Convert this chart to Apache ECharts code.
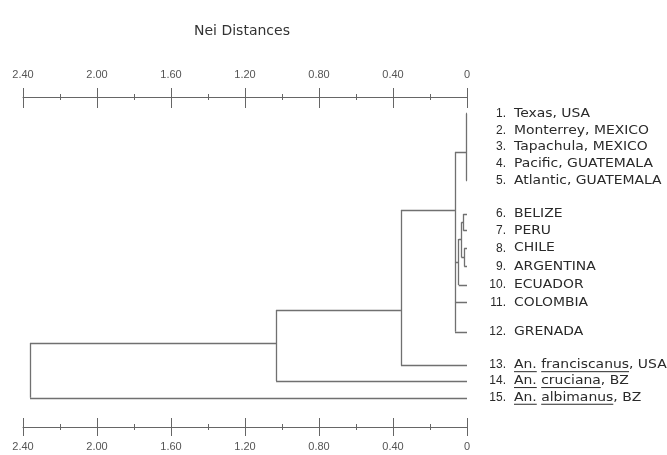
<!DOCTYPE html>
<html><head><meta charset="utf-8">
<script src="https://cdn.jsdelivr.net/npm/echarts@6/dist/echarts.min.js"></script>
<style>html,body{margin:0;padding:0;background:#fff}#c{width:667px;height:455px}</style>
</head><body><div id="c"></div>
<script>
// ---- data ----
const titleText = 'Nei Distances';
const tickValues = [0, 0.4, 0.8, 1.2, 1.6, 2.0, 2.4];
const tickLabels = ['0', '0.40', '0.80', '1.20', '1.60', '2.00', '2.40'];

const leafIds = ['L1','L2','L3','L4','L5','L6','L7','L8','L9','L10','L11','L12','L13','L14','L15'];
const leafNumbers = ['1.','2.','3.','4.','5.','6.','7.','8.','9.','10.','11.','12.','13.','14.','15.'];
const leafNames = ['Texas, USA','Monterrey, MEXICO','Tapachula, MEXICO','Pacific, GUATEMALA','Atlantic, GUATEMALA',
  'BELIZE','PERU','CHILE','ARGENTINA','ECUADOR','COLOMBIA','GRENADA',
  'An. franciscanus, USA','An. cruciana, BZ','An. albimanus, BZ'];
// words shown underlined (species names)
const leafUnderlined = [[],[],[],[],[],[],[],[],[],[],[],[],
  ['An.','franciscanus'], ['An.','cruciana'], ['An.','albimanus']];
// leaf order rows (row units on the hidden vertical axis)
const leafRows = [0, 1, 2, 3, 4, 6, 7, 8.05, 9.15, 10.25, 11.3, 13.05, 15.05, 16, 17];

// internal nodes: Nei distance at which the cluster joins, its children, and the row where it attaches to its parent
const nodeIds = ['T','S1','S2','S3','S4','C','B','A','R'];
const nodeHeights = [0.005, 0.02, 0.015, 0.03, 0.045, 0.065, 0.357, 1.032, 2.362];
const nodeChildren = [
  ['L1','L2','L3','L4','L5'],
  ['L6','L7'],
  ['L8','L9'],
  ['S1','S2'],
  ['S3','L10'],
  ['T','S4','L11','L12'],
  ['C','L13'],
  ['B','L14'],
  ['A','L15']
];
const nodeRows = [2.3, 6.5, 8.6, 7.5, 8.9, 5.77, 11.75, 13.73, 15.5];

// ---- build ----
function info(id) {
  const li = leafIds.indexOf(id);
  if (li >= 0) return { h: 0, row: leafRows[li] };
  const ni = nodeIds.indexOf(id);
  return { h: nodeHeights[ni], row: nodeRows[ni] };
}
const segs = [];
nodeIds.forEach((id, j) => {
  const h = nodeHeights[j];
  const kids = nodeChildren[j].map(info);
  const rows = kids.map(k => k.row);
  segs.push({ coords: [[h, Math.min(...rows)], [h, Math.max(...rows)]] });
  kids.forEach(k => segs.push({ coords: [[k.h, k.row], [h, k.row]] }));
});

const FONT = '"Liberation Sans", Arial, sans-serif';
const NAME_FONT = '12px "DejaVu Sans", sans-serif';
const NUM_FONT = '12px "Liberation Sans", Arial, sans-serif';
const NAME_SX = 1.16;
const TEXT_COLOR = '#2a2a2a';
const mctx = document.createElement('canvas').getContext('2d');
function measure(s) { mctx.font = NAME_FONT; return mctx.measureText(s).width; }

const axisColor = '#666';
function baseX(pos, show, inside, len) {
  return {
    type: 'value', position: pos, min: 0, max: 2.4, interval: 0.4, inverse: true,
    axisLine: { show: show, onZero: false, lineStyle: { color: axisColor, width: 1 } },
    axisTick: { show: true, inside: inside, length: len, lineStyle: { color: axisColor, width: 1 } },
    minorTick: { show: true, splitNumber: 2, length: 3, lineStyle: { color: axisColor, width: 1 } },
    splitLine: { show: false },
    axisLabel: {
      show: show, margin: pos === 'top' ? 17 : 14,
      fontFamily: FONT, fontSize: 11, color: '#555',
      formatter: v => { const i = tickValues.findIndex(t => Math.abs(t - v) < 1e-9); return i >= 0 ? tickLabels[i] : ''; }
    }
  };
}

const chart = echarts.init(document.getElementById('c'));
chart.setOption({
  backgroundColor: '#fff',
  animation: false,
  title: { text: titleText, left: 189, top: 19, textStyle: { fontFamily: '"DejaVu Sans", sans-serif', fontSize: 14, fontWeight: 'normal', color: '#333' } },
  grid: { left: 23, right: 200, top: 97, bottom: 28, containLabel: false },
  xAxis: [
    baseX('top', true, false, 9),
    baseX('top', false, true, 11),
    baseX('bottom', true, false, 9),
    baseX('bottom', false, true, 9)
  ],
  yAxis: { type: 'value', min: -1, max: 18.75, inverse: true, show: false },
  series: [
    {
      type: 'lines', coordinateSystem: 'cartesian2d', xAxisIndex: 0, silent: true,
      lineStyle: { color: '#707070', width: 1.3, opacity: 1 },
      data: segs
    },
    {
      type: 'custom', xAxisIndex: 0, silent: true, clip: false,
      data: leafRows.map(r => [0, r]),
      renderItem: (params, api) => {
        const i = params.dataIndex;
        const p = api.coord([api.value(0), api.value(1)]);
        const xn = p[0] + 39, xt = p[0] + 47;
        const kids = [
          { type: 'text', x: xn, y: p[1],
            style: { text: leafNumbers[i], font: NUM_FONT, fill: TEXT_COLOR, align: 'right', verticalAlign: 'middle', textAlign: 'right', textVerticalAlign: 'middle' } },
          { type: 'text', x: xt, y: p[1], scaleX: NAME_SX,
            style: { text: leafNames[i], font: NAME_FONT, fill: TEXT_COLOR, align: 'left', verticalAlign: 'middle', textAlign: 'left', textVerticalAlign: 'middle' } }
        ];
        leafUnderlined[i].forEach(w => {
          const idx = leafNames[i].indexOf(w);
          const a = measure(leafNames[i].slice(0, idx)) * NAME_SX;
          const b = measure(w) * NAME_SX;
          kids.push({ type: 'line', shape: { x1: xt + a, y1: p[1] + 6.5, x2: xt + a + b, y2: p[1] + 6.5 },
            style: { stroke: TEXT_COLOR, lineWidth: 1 } });
        });
        return { type: 'group', children: kids };
      }
    }
  ]
});
</script>
</body></html>
